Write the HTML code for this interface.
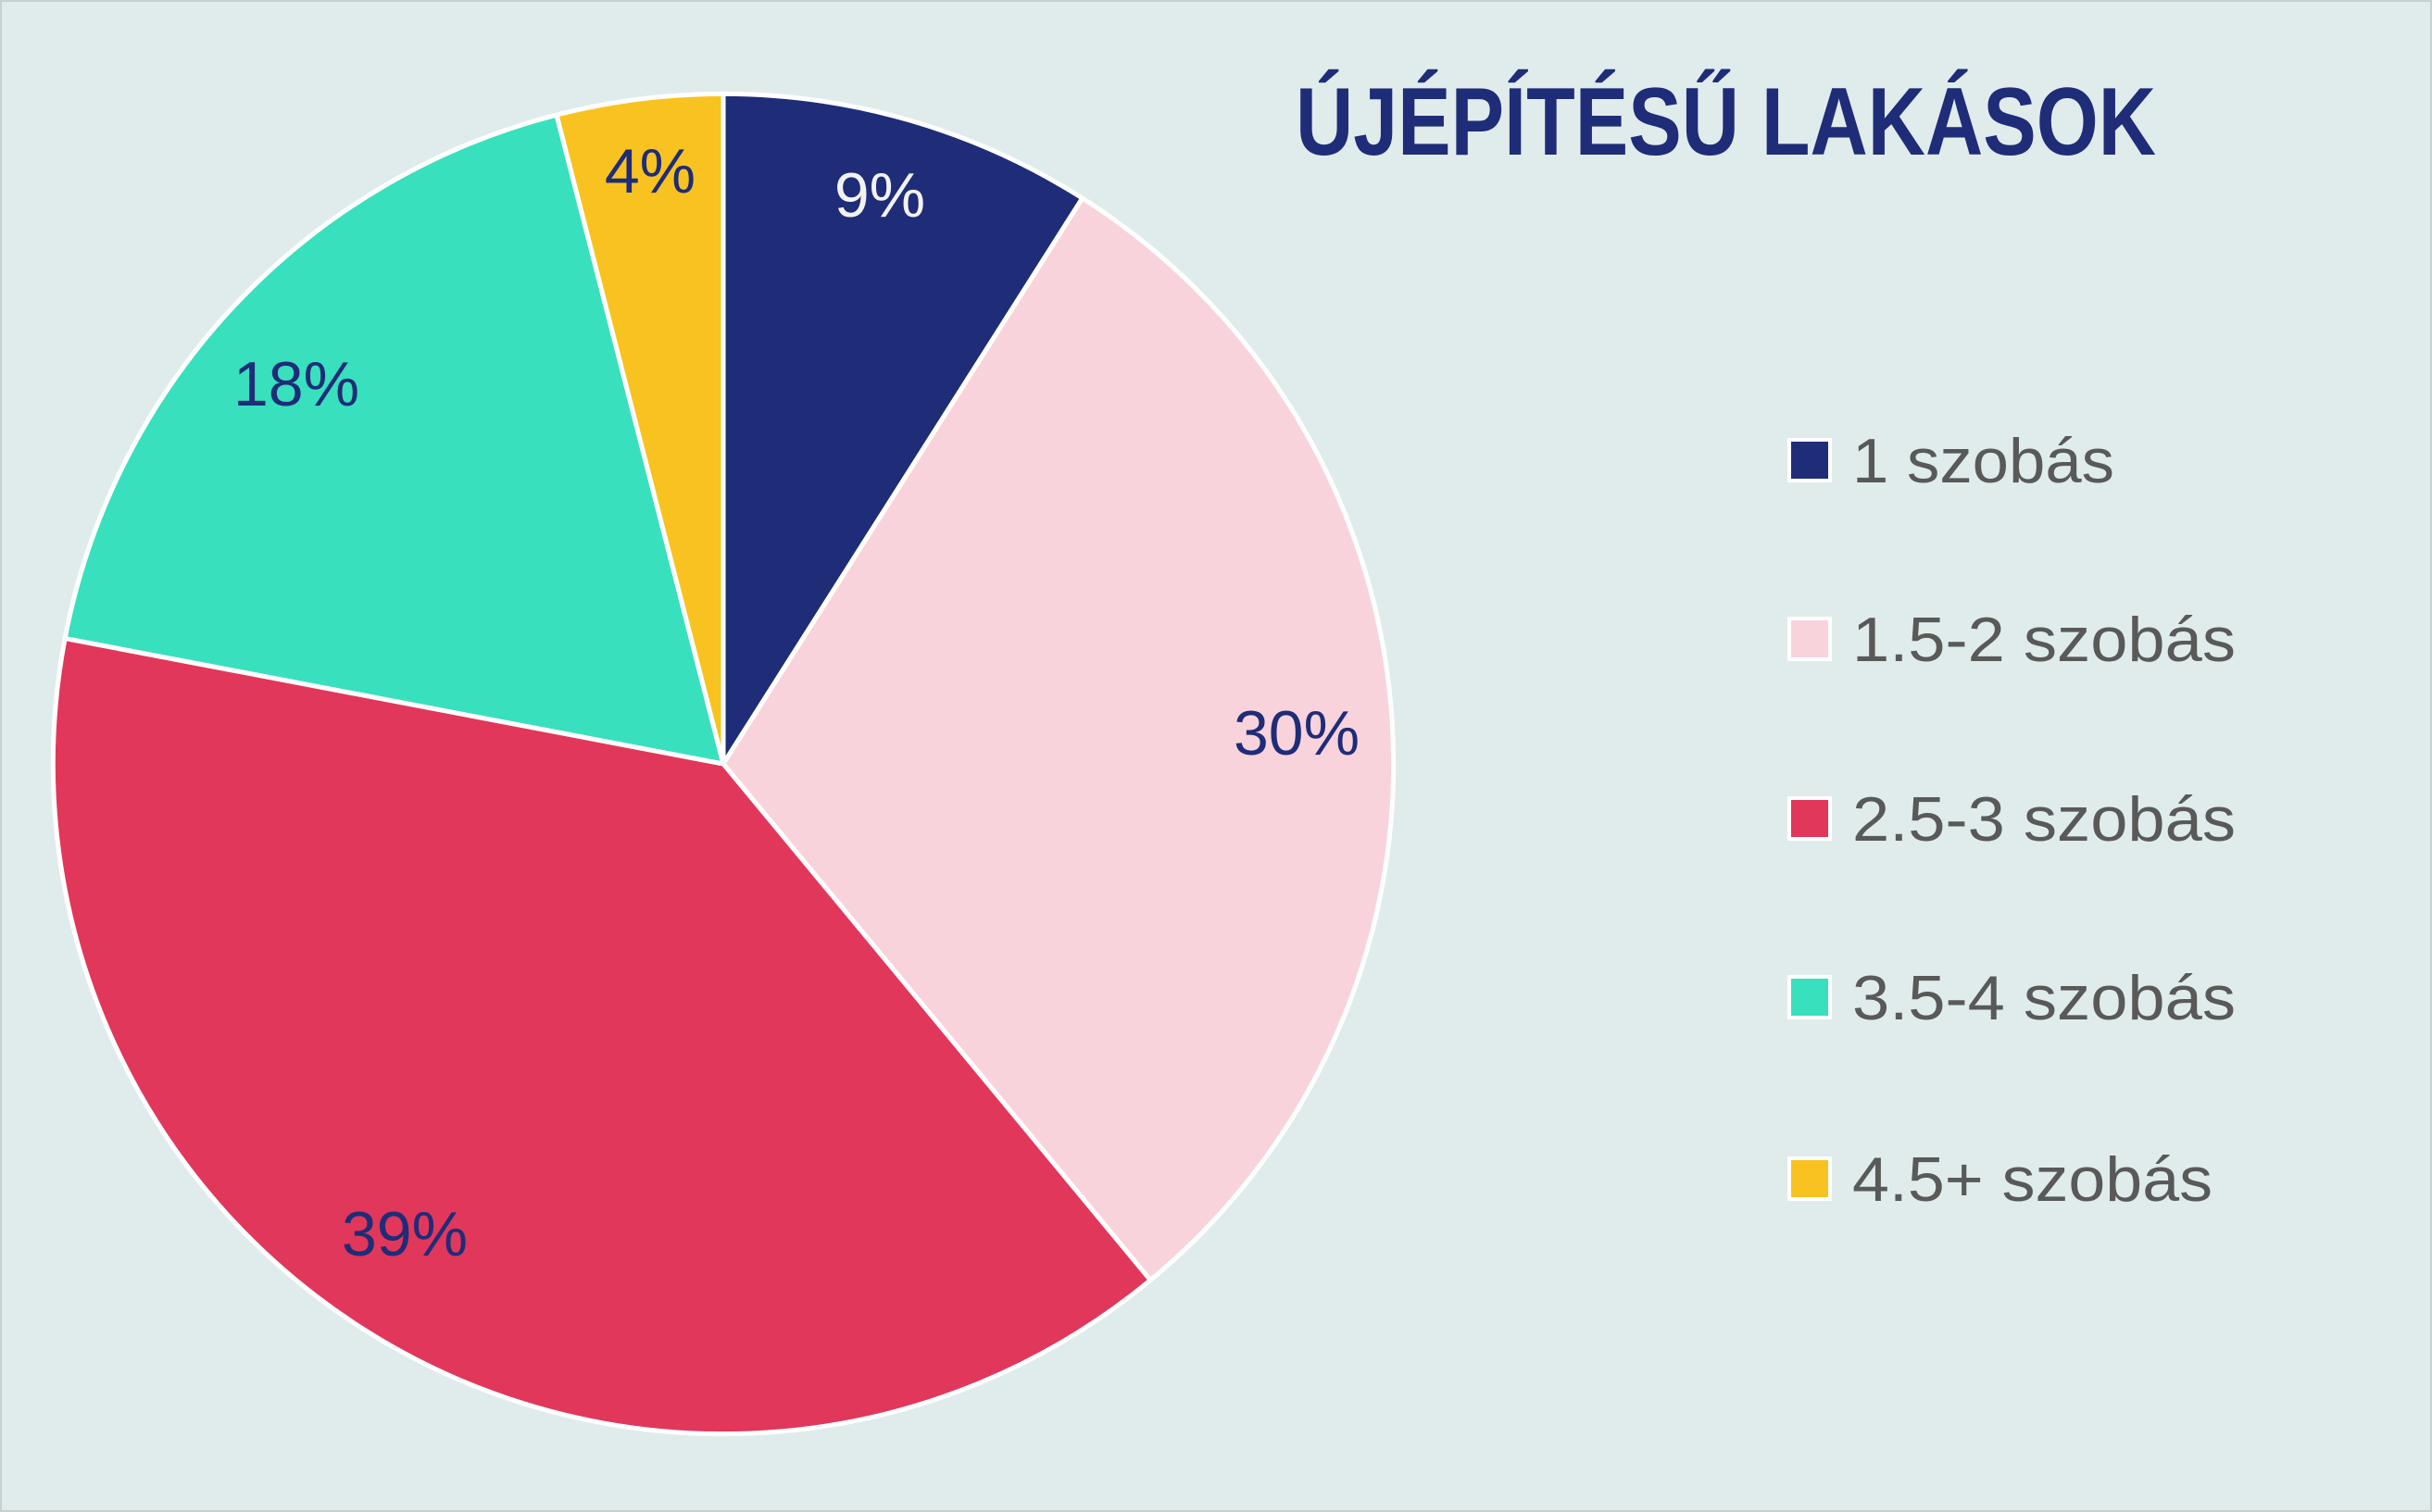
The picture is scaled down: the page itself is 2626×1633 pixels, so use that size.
<!DOCTYPE html>
<html><head><meta charset="utf-8"><style>
html,body{margin:0;padding:0;background:#e0ecec;}
svg{display:block;}
</style></head><body>
<svg width="2626" height="1633" viewBox="0 0 2626 1633" xmlns="http://www.w3.org/2000/svg">
<rect x="1" y="1" width="2624" height="1631" fill="#e0ecec" stroke="#c9cfcf" stroke-width="2"/>
<g transform="translate(781,825) scale(1.005) translate(-780,-824)">
<g stroke="#ffffff" stroke-width="5" stroke-linejoin="round">
<path d="M780,824 L780,104 A720,720 0 0 1 1165.8,216.1 Z" fill="#1f2c78"/>
<path d="M780,824 L1165.8,216.1 A720,720 0 0 1 1238.9,1378.8 Z" fill="#f9d3dc"/>
<path d="M780,824 L1238.9,1378.8 A720,720 0 0 1 72.7,689.1 Z" fill="#e1375a"/>
<path d="M780,824 L72.7,689.1 A720,720 0 0 1 600.9,126.6 Z" fill="#38e0be"/>
<path d="M780,824 L600.9,126.6 A720,720 0 0 1 780,104 Z" fill="#f8c321"/>
</g>
</g>
<g font-family="Liberation Sans, sans-serif" font-size="68" text-anchor="middle">
<text x="950" y="234" fill="#f2f2f2">9%</text>
<text x="1400" y="815" fill="#1f2c78">30%</text>
<text x="437" y="1356" fill="#1f2c78">39%</text>
<text x="320" y="438" fill="#1f2c78">18%</text>
<text x="702" y="208" fill="#1f2c78">4%</text>
</g>
<text x="1399" y="167" font-family="Liberation Sans, sans-serif" font-weight="bold" font-size="104" fill="#1f2c78" textLength="929" lengthAdjust="spacingAndGlyphs">ÚJÉPÍTÉSŰ LAKÁSOK</text>
<g stroke="#ffffff" stroke-width="4">
<rect x="1932" y="475" width="44" height="44" fill="#1f2c78"/>
<rect x="1932" y="668" width="44" height="44" fill="#f9d3dc"/>
<rect x="1932" y="862" width="44" height="44" fill="#e1375a"/>
<rect x="1932" y="1055" width="44" height="44" fill="#38e0be"/>
<rect x="1932" y="1251" width="44" height="44" fill="#f8c321"/>
</g>
<g font-family="Liberation Sans, sans-serif" font-size="68" fill="#595959">
<text x="2000" y="521" textLength="283" lengthAdjust="spacingAndGlyphs">1 szobás</text>
<text x="2000" y="714" textLength="414" lengthAdjust="spacingAndGlyphs">1.5-2 szobás</text>
<text x="2000" y="908" textLength="414" lengthAdjust="spacingAndGlyphs">2.5-3 szobás</text>
<text x="2000" y="1101" textLength="414" lengthAdjust="spacingAndGlyphs">3.5-4 szobás</text>
<text x="2000" y="1297" textLength="389" lengthAdjust="spacingAndGlyphs">4.5+ szobás</text>
</g>
</svg>
</body></html>
